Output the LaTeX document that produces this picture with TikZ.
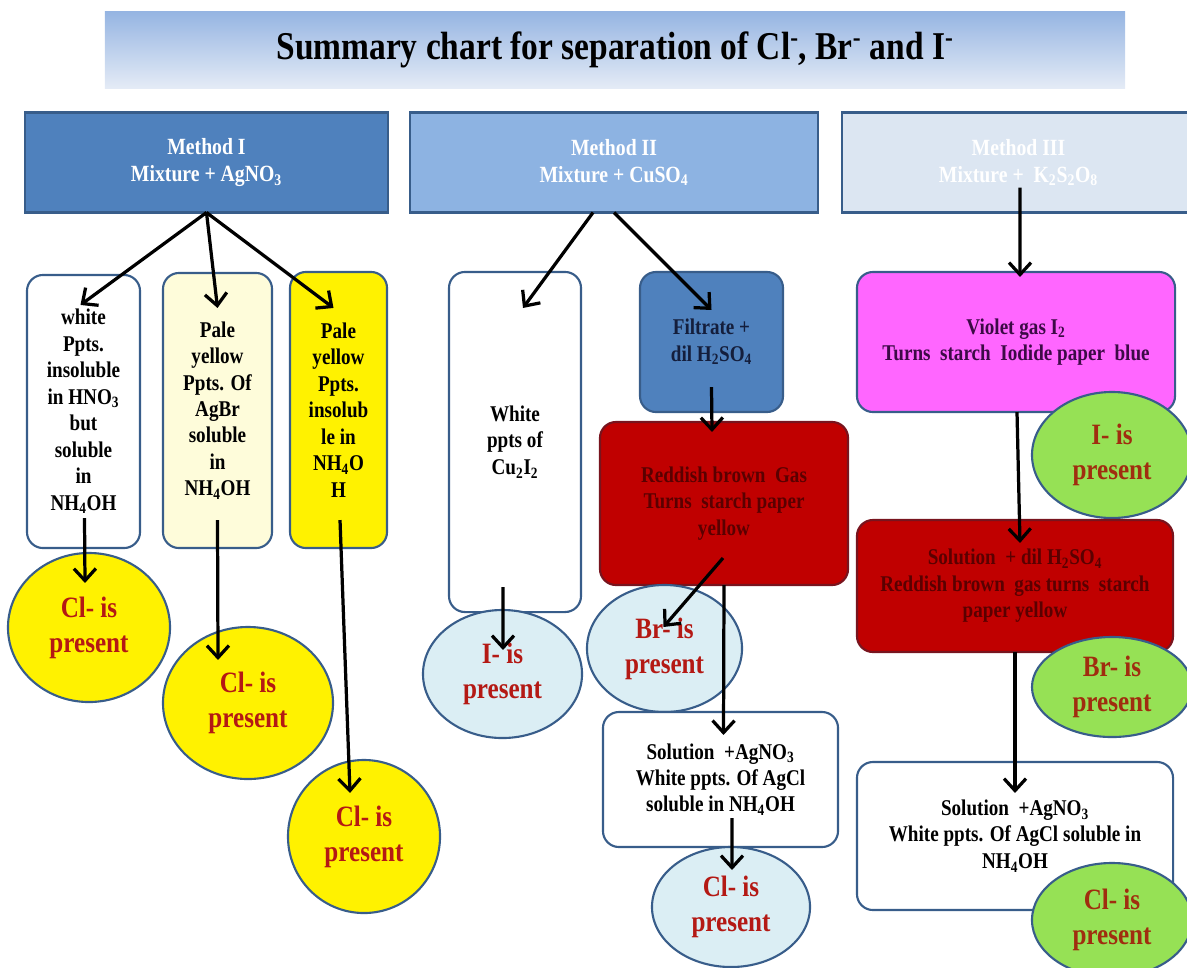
\documentclass[tikz,border=0pt]{standalone}
\usepackage{amsmath}
\usepackage{xcolor}
\usepackage{fontspec}
\setmainfont[FakeStretch=0.85]{Liberation Serif}
\usepackage{tikz}
\usetikzlibrary{positioning,calc,shapes.geometric,arrows.meta}
\definecolor{TitleTop}{RGB}{150,181,226}
\definecolor{TitleBottom}{RGB}{228,235,246}
\definecolor{MethodOne}{RGB}{79,129,189}
\definecolor{MethodTwo}{RGB}{141,179,226}
\definecolor{MethodThree}{RGB}{220,230,242}
\definecolor{EdgeBlue}{RGB}{56,93,138}
\definecolor{PaleCream}{RGB}{254,252,218}
\definecolor{LightBlue}{RGB}{219,238,244}
\definecolor{RedBox}{RGB}{192,0,0}
\definecolor{RedEdge}{RGB}{120,20,30}
\definecolor{RedText}{RGB}{90,0,0}
\definecolor{NavyText}{RGB}{20,30,60}
\definecolor{Magenta}{RGB}{255,102,255}
\definecolor{PurpleText}{RGB}{60,10,70}
\definecolor{LimeGreen}{RGB}{150,225,85}
\definecolor{OvalRed}{RGB}{180,25,20}
\definecolor{BrownText}{RGB}{160,45,15}

\begin{document}
\begin{tikzpicture}[x=0.025cm,y=-0.025cm]
        % Định nghĩa style
        \tikzstyle{mbox} = [
            draw=EdgeBlue,
            line width=1.5pt,
            text=white,
            font=\fontsize{16.5}{19.2}\selectfont\bfseries,
            align=center,
            inner sep=0pt,
            outer sep=0pt,
            minimum height=2.5cm
        ]
        \tikzstyle{cbox} = [
            draw=EdgeBlue,
            line width=1.5pt,
            rounded corners=0.4cm,
            font=\fontsize{16}{18.8}\selectfont\bfseries,
            align=center,
            inner sep=0pt,
            outer sep=0pt
        ]
        \tikzstyle{oval} = [
            ellipse,
            draw=EdgeBlue,
            line width=1.5pt,
            text=OvalRed,
            font=\fontsize{21}{25}\selectfont\bfseries,
            align=center,
            inner sep=0pt,
            outer sep=0pt
        ]
        \tikzstyle{arr} = [-{Straight Barb[length=3mm,width=5.5mm]}, line width=2.3pt, black]

        \useasboundingbox (0,0) rectangle (1187,967);

        % Tiêu đề
        \node[top color=TitleTop, bottom color=TitleBottom, minimum width=25.5cm, minimum height=1.9cm,
              inner sep=0pt, font=\fontsize{28}{30}\selectfont\bfseries] (title) at (615,50)
            {Summary chart for separation of Cl\textsuperscript{-}, Br\textsuperscript{-} and I\textsuperscript{-}};

        % Ba phương pháp
        \node[mbox, fill=MethodOne, minimum width=9.075cm] (m1) at (206.5,162.5) {Method I\\ Mixture + AgNO\textsubscript{3}};
        \node[mbox, fill=MethodTwo, minimum width=10.2cm] (m2) at (614,162.5) {Method II\\ Mixture + CuSO\textsubscript{4}};
        \node[mbox, fill=MethodThree, minimum width=8.825cm] (m3) at (1018.5,162.5) {Method III\\ Mixture +~ K\textsubscript{2}S\textsubscript{2}O\textsubscript{8}};

        % Phương pháp I
        \node[cbox, fill=white, minimum width=2.825cm, minimum height=6.825cm] (a1) at (83.5,411.5)
            {white\\ Ppts.\\ insoluble\\ in HNO\textsubscript{3}\\ but\\ soluble\\ in\\ NH\textsubscript{4}OH};
        \node[cbox, fill=PaleCream, minimum width=2.725cm, minimum height=6.875cm] (a2) at (217.5,410.5)
            {Pale\\ yellow\\ Ppts. Of\\ AgBr\\ soluble\\ in\\ NH\textsubscript{4}OH};
        \node[cbox, fill=yellow, minimum width=2.425cm, minimum height=6.9cm] (a3) at (338.5,410)
            {Pale\\ yellow\\ Ppts.\\ insolub\\ le in\\ NH\textsubscript{4}O\\ H};
        \foreach \n/\x/\y/\w/\h in {1/89/627.5/4.05/3.725, 2/248/703/4.25/3.8, 3/364/836.5/3.8/3.825} {
            \node[oval, fill=yellow, minimum width=\w cm, minimum height=\h cm] (e\n) at (\x,\y) {Cl- is\\ present};
        }

        % Phương pháp II
        \node[cbox, fill=white, minimum width=3.3cm, minimum height=8.5cm] (b1) at (515,442) {White\\ ppts of\\ Cu\textsubscript{2}I\textsubscript{2}};
        \node[cbox, fill=MethodOne, text=NavyText, minimum width=3.575cm, minimum height=3.5cm] (b2) at (711.5,342)
            {Filtrate +\\ dil H\textsubscript{2}SO\textsubscript{4}};
        \node[cbox, fill=RedBox, draw=RedEdge, text=RedText, minimum width=6.2cm, minimum height=4.075cm] (b3) at (724,503.5)
            {Reddish brown~ Gas\\ Turns~ starch paper\\ yellow};
        \node[oval, fill=LightBlue, minimum width=3.875cm, minimum height=3.175cm] (b4) at (664.5,648.5) {Br- is\\ present};
        \node[oval, fill=LightBlue, minimum width=3.975cm, minimum height=3.2cm] (b5) at (502.5,674) {I- is\\ present};
        \node[cbox, fill=white, minimum width=5.875cm, minimum height=3.375cm] (b6) at (720.5,779.5)
            {Solution~ +AgNO\textsubscript{3}\\ White ppts. Of AgCl\\ soluble in NH\textsubscript{4}OH};
        \node[oval, fill=LightBlue, minimum width=3.95cm, minimum height=3.0cm] (b7) at (731,907) {Cl- is\\ present};

        % Phương pháp III
        \node[cbox, fill=Magenta, text=PurpleText, minimum width=7.95cm, minimum height=3.5cm] (c1) at (1016,342)
            {Violet gas I\textsubscript{2}\\ Turns~ starch~ Iodide paper~ blue};
        \node[oval, fill=LimeGreen, text=BrownText, minimum width=4cm, minimum height=3.15cm] (c2) at (1112,455) {I- is\\ present};
        \node[cbox, fill=RedBox, draw=RedEdge, text=RedText, minimum width=7.9cm, minimum height=3.3cm] (c3) at (1015,586)
            {Solution~ + dil H\textsubscript{2}SO\textsubscript{4}\\ Reddish brown~ gas turns~ starch\\ paper yellow};
        \node[oval, fill=LimeGreen, text=BrownText, minimum width=4cm, minimum height=2.5cm] (c4) at (1112,687) {Br- is\\ present};
        \node[cbox, fill=white, minimum width=7.9cm, minimum height=3.7cm] (c5) at (1015,836)
            {Solution~ +AgNO\textsubscript{3}\\ White ppts. Of AgCl soluble in\\ NH\textsubscript{4}OH};
        \node[oval, fill=LimeGreen, text=BrownText, minimum width=4cm, minimum height=2.85cm] (c6) at (1112,920) {Cl- is\\ present};

        % Mũi tên
        \draw[arr] (m1.south) -- ($(a1.north)+(-3,30)$);
        \draw[arr] (m1.south) -- ($(a2.north)+(0,35)$);
        \draw[arr] (m1.south) -- ($(a3.north)+(-5,36)$);
        \draw[arr] ($(a1.south)+(1,-30)$) -- ($(e1.north)+(-4,30)$);
        \draw[arr] ($(a2.south)+(0,-28)$) -- ($(e2.north)+(-30,33)$);
        \draw[arr] ($(a3.south)+(1.5,-28)$) -- ($(e3.north)+(-14,33)$);

        \draw[arr] ($(m2.south)+(-21,0)$) -- ($(b1.north)+(8,36)$);
        \draw[arr] (m2.south) -- ($(b2.north)+(0,38)$);
        \draw[arr] ($(b2.south)+(0,-25)$) -- ($(b3.north)+(-12,10)$);
        \draw[arr] ($(b3.south)+(-1,-27)$) -- ($(b4.north)+(-1,42)$);
        \draw[arr] (b3.south) -- ($(b6.north)+(3,23)$);
        \draw[arr] ($(b1.south)+(-12,-25)$) -- ($(b5.north)+(0.5,40)$);
        \draw[arr] ($(b6.south)+(11.5,-29)$) -- ($(b7.north)+(1,23)$);

        \draw[arr] ($(m3.south)+(1.5,-25)$) -- ($(c1.north)+(4,5)$);
        \draw[arr] ($(c1.south)+(1,0)$) -- ($(c3.north)+(5,23)$);
        \draw[arr] (c3.south) -- ($(c5.north)+(0,31)$);
    \end{tikzpicture}
\end{document}
